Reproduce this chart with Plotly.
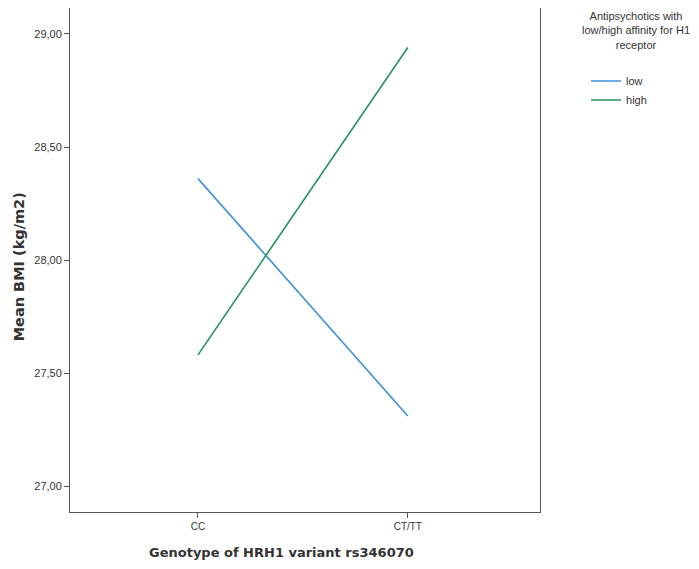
import plotly.graph_objects as go

categories = ["CC", "CT/TT"]
low_vals = [28.36, 27.31]
high_vals = [27.58, 28.94]
y_ticks = [27.0, 27.5, 28.0, 28.5, 29.0]
y_tick_labels = ["27,00", "27,50", "28,00", "28,50", "29,00"]

xpos = list(range(len(categories)))

fig = go.Figure()
fig.add_trace(go.Scatter(x=xpos, y=low_vals, mode="lines", name="low",
                         line=dict(color="#3d8fd8", width=1.6)))
fig.add_trace(go.Scatter(x=xpos, y=high_vals, mode="lines", name="high",
                         line=dict(color="#23915e", width=1.6)))

lib = "Liberation Sans, Arial, sans-serif"
dej = "DejaVu Sans, Verdana, sans-serif"
fig.update_layout(
    width=691, height=561,
    margin=dict(l=62, r=159, t=0, b=57),
    plot_bgcolor="white", paper_bgcolor="white",
    showlegend=True,
    legend=dict(x=1.098, y=0.884, xanchor="left", yanchor="top",
                font=dict(family=lib, size=11, color="#333"),
                itemwidth=30, tracegroupgap=0, bgcolor="rgba(0,0,0,0)"),
    xaxis=dict(range=[-0.61, 1.63], tickvals=xpos, ticktext=categories,
               showgrid=False, zeroline=False, showline=True, linecolor="#555", linewidth=1,
               mirror=True, ticks="outside", ticklen=5, tickcolor="#555",
               tickfont=dict(family=lib, size=10, color="#333")),
    yaxis=dict(range=[26.885, 29.115], tickvals=y_ticks, ticktext=y_tick_labels,
               showgrid=False, zeroline=False, showline=True, linecolor="#555", linewidth=1,
               mirror=True, ticks="outside", ticklen=5, tickcolor="#555",
               tickfont=dict(family=lib, size=11, color="#333")),
)
fig.add_annotation(text="<b>Genotype of HRH1 variant rs346070</b>",
                   xref="paper", yref="paper", x=0.449, y=-0.081,
                   xanchor="center", yanchor="middle", showarrow=False,
                   font=dict(family=dej, size=13, color="#333"))
fig.add_annotation(text="<b>Mean BMI (kg/m2)</b>", textangle=-90,
                   xref="paper", yref="paper", x=-0.109, y=0.487,
                   xanchor="center", yanchor="middle", showarrow=False,
                   font=dict(family=dej, size=14.5, color="#333"))
fig.add_annotation(text="Antipsychotics with<br>low/high affinity for H1<br>receptor",
                   xref="paper", yref="paper", x=1.204, y=1.0, xanchor="center", yanchor="top",
                   showarrow=False, align="center",
                   font=dict(family=lib, size=11, color="#333"))
fig.write_html("out.html")
